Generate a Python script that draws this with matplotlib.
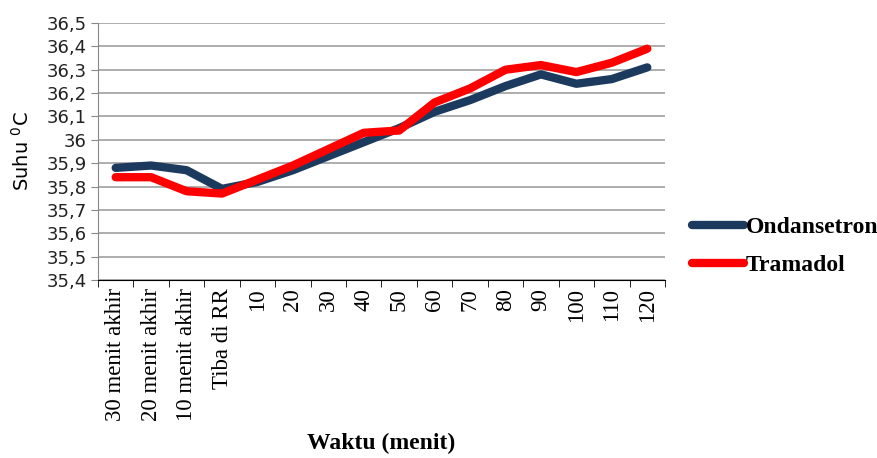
import matplotlib
matplotlib.use("Agg")
import matplotlib.pyplot as plt
import numpy as np
from matplotlib.ticker import FixedLocator

categories = ["30 menit akhir", "20 menit akhir", "10 menit akhir", "Tiba di RR",
              "10", "20", "30", "40", "50", "60", "70", "80", "90", "100", "110", "120"]
ondansetron = [35.88, 35.89, 35.87, 35.79, 35.82, 35.87, 35.93, 35.99, 36.05, 36.12,
               36.17, 36.23, 36.28, 36.24, 36.26, 36.31]
tramadol = [35.84, 35.84, 35.78, 35.77, 35.83, 35.89, 35.96, 36.03, 36.04, 36.16,
            36.22, 36.30, 36.32, 36.29, 36.33, 36.39]
yticks = [35.4, 35.5, 35.6, 35.7, 35.8, 35.9, 36.0, 36.1, 36.2, 36.3, 36.4, 36.5]
ytick_labels = ["35,4", "35,5", "35,6", "35,7", "35,8", "35,9", "36", "36,1", "36,2",
                "36,3", "36,4", "36,5"]

fig = plt.figure(figsize=(8.78, 4.58), dpi=100)
ax = fig.add_axes([0.1116, 0.3886, 0.6458, 0.5612])

x = np.arange(len(categories))
l1, = ax.plot(x, ondansetron, color="#1B3A5E", lw=6, solid_capstyle="round",
              solid_joinstyle="round", label="Ondansetron", zorder=3)
l2, = ax.plot(x, tramadol, color="#FF0000", lw=6, solid_capstyle="round",
              solid_joinstyle="round", label="Tramadol", zorder=4)

ax.set_xlim(-0.5, len(categories) - 0.5)
ax.set_ylim(35.4, 36.5)
ax.set_yticks(yticks)
ax.set_yticklabels(ytick_labels, fontfamily="DejaVu Sans", fontsize=13, color="#222222")
ax.yaxis.grid(True, color="#A0A0A0", lw=1.2)
ax.set_axisbelow(True)

ax.set_xticks(x)
ax.set_xticklabels(categories, rotation=90, fontfamily="Liberation Serif", fontsize=16.5)
ax.tick_params(axis="x", which="major", length=0, pad=6)
ax.xaxis.set_minor_locator(FixedLocator(np.arange(-0.5, len(categories), 1.0)))
ax.tick_params(axis="x", which="minor", length=5, color="black")
ax.tick_params(axis="y", length=5, color="#888888", pad=3)

for s in ["top", "right"]:
    ax.spines[s].set_visible(False)
ax.spines["left"].set_color("#888888")
ax.spines["bottom"].set_color("black")

ax.set_ylabel("Suhu $^{0}$C", fontfamily="DejaVu Sans", fontsize=14, labelpad=10)
ax.set_xlabel("Waktu (menit)", fontfamily="Liberation Serif", fontweight="bold",
              fontsize=17, labelpad=8)

leg = fig.legend(handles=[l1, l2], loc="center left", bbox_to_anchor=(0.788, 0.462),
                 frameon=False, handlelength=2.2, handletextpad=0.1, labelspacing=0.7,
                 borderpad=0, borderaxespad=0,
                 prop={"family": "Liberation Serif", "weight": "bold", "size": 17})

fig.savefig("out.png", dpi=100)
